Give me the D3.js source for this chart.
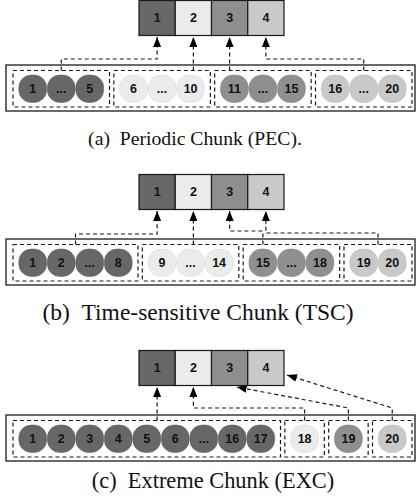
<!DOCTYPE html>
<html>
<head>
<meta charset="utf-8">
<script src="https://cdn.jsdelivr.net/npm/d3@7"></script>
<style>
  body { margin: 0; background: #fff; }
  svg { display: block; }
</style>
</head>
<body>
<div id="chart"></div>
<script>
// chunk slots (top row) and the items grouped under each chunk
const chunks = ["1", "2", "3", "4"]

const pecGroups = [["1", "...", "5"], ["6", "...", "10"], ["11", "...", "15"], ["16", "...", "20"]]
const tscGroups = [["1", "2", "...", "8"], ["9", "...", "14"], ["15", "...", "18"], ["19", "20"]]
const excGroups = [["1", "2", "3", "4", "5", "6", "...", "16", "17"], ["18"], ["19"], ["20"]]

// how each group links up to its chunk, and which item slot the link starts from
const pecLinks = ["elbow", "straight", "straight", "elbow"]
const tscLinks = ["elbow", "straight", "elbow", "elbow"]
const excLinks = ["straight", "elbow", "diag", "diag"]
const pecAnchors = [1, null, null, 1]
const tscAnchors = [1.5, null, 0, 0.5]
const excAnchors = [null, 0, 0, 0]

const captions = ["(a)\u2002Periodic Chunk (PEC).", "(b)\u2002Time-sensitive Chunk (TSC)", "(c)\u2002Extreme Chunk (EXC)"]

// ---- styles / layout
const W = 417, H = 503
const colors = ["#676767", "#ebebeb", "#8f8f8f", "#c9c9c9"]
const ink = "#1a1a1a"
const panelTop = [0, 174, 350]
const elbowY = [[59, 0, 0, 59], [60, 0, 57, 59], [0, 58, 58, 58]]
const capY = [145, 320, 488]
const capX = [195, 198, 213]
const capSize = [19.7, 23.5, 22.4]
const itemW = 28.5, pad = 5.5
const areaX0 = 13, areaX1 = 412

let svg = d3.select("#chart").append("svg")
    .attr("width", W)
    .attr("height", H)

let defs = svg.append("defs")
defs.append("marker")
    .attr("id", "arrow")
    .attr("viewBox", "0 0 10 8")
    .attr("refX", 10)
    .attr("refY", 4)
    .attr("markerWidth", 10)
    .attr("markerHeight", 8)
    .attr("markerUnits", "userSpaceOnUse")
    .attr("orient", "auto")
  .append("path")
    .attr("d", "M0,0L10,4L0,8Z")
    .attr("fill", "#000")

let x = d3.scaleBand().domain(chunks).range([139, 284]).padding(0)
let color = d3.scaleOrdinal().domain(chunks).range(colors)

const panels = [
    { groups: pecGroups, links: pecLinks, anchors: pecAnchors },
    { groups: tscGroups, links: tscLinks, anchors: tscAnchors },
    { groups: excGroups, links: excLinks, anchors: excAnchors }
]

panels.forEach((p, pi) => {
    let g = svg.append("g").attr("transform", `translate(0,${panelTop[pi]})`)

    // group boxes laid out across the area with equal gaps
    let widths = p.groups.map(d => d.length * itemW + 2 * pad)
    let gap = (areaX1 - areaX0 - d3.sum(widths)) / (widths.length - 1)
    let lefts = widths.map((w, i) => areaX0 + d3.sum(widths.slice(0, i)) + gap * i)
    let slot = (gi, k) => d3.scaleLinear().domain([0, 1]).range([lefts[gi] + pad, lefts[gi] + pad + itemW])(k) + itemW / 2

    // outer solid frame
    g.append("rect")
        .attr("x", 6).attr("y", 65)
        .attr("width", 409).attr("height", 46)
        .attr("fill", "none").attr("stroke", ink).attr("stroke-width", 1.3)

    // links (drawn before boxes)
    let groupTop = 70.5
    p.links.forEach((type, i) => {
        let ax = x(chunks[i]) + x.bandwidth() / 2
        let path
        if (type == "straight") {
            path = `M${ax},${groupTop}V37`
        } else if (type == "elbow") {
            let sx = slot(i, p.anchors[i])
            path = `M${sx},${groupTop}V${elbowY[pi][i]}H${ax}V37`
        } else {
            let sx = slot(i, p.anchors[i])
            let tip = i == 2 ? [ax + 7, 37] : [x(chunks[i]) + x.bandwidth() + 3, 25]
            path = `M${sx},${groupTop}V${elbowY[pi][i]}L${tip[0]},${tip[1]}`
        }
        g.append("path")
            .attr("d", path)
            .attr("fill", "none")
            .attr("stroke", ink)
            .attr("stroke-width", 1.2)
            .attr("stroke-dasharray", "4,3")
            .attr("marker-end", "url(#arrow)")
    })

    // chunk boxes
    let boxes = g.selectAll(".chunk").data(chunks).enter().append("g").attr("class", "chunk")
    boxes.append("rect")
        .attr("x", d => x(d)).attr("y", 0.5)
        .attr("width", x.bandwidth()).attr("height", 35)
        .attr("fill", d => color(d))
        .attr("stroke", ink).attr("stroke-width", 1.2)
    boxes.append("text")
        .attr("x", d => x(d) + x.bandwidth() / 2).attr("y", 18)
        .attr("text-anchor", "middle").attr("dominant-baseline", "central")
        .attr("font-family", "'Liberation Sans', Arial, sans-serif")
        .attr("font-weight", "bold").attr("font-size", 12.5)
        .attr("fill", "#111")
        .text(d => d)

    // groups
    p.groups.forEach((items, gi) => {
        g.append("rect")
            .attr("x", lefts[gi]).attr("y", groupTop)
            .attr("width", widths[gi]).attr("height", 36.5)
            .attr("fill", "none").attr("stroke", ink)
            .attr("stroke-width", 1.2).attr("stroke-dasharray", "4,3")

        let it = g.selectAll(".item-" + gi).data(items).enter().append("g").attr("class", "item-" + gi)
        it.append("rect")
            .attr("x", (d, k) => slot(gi, k) - itemW / 2 + 0.3)
            .attr("y", 75)
            .attr("width", itemW - 0.6).attr("height", 27.5)
            .attr("rx", 12.5)
            .attr("fill", color(chunks[gi]))
            .attr("stroke", d3.color(color(chunks[gi])).darker(0.25))
            .attr("stroke-width", 0.5)
        it.append("text")
            .attr("x", (d, k) => slot(gi, k))
            .attr("y", 89)
            .attr("text-anchor", "middle").attr("dominant-baseline", "central")
            .attr("font-family", "'Liberation Sans', Arial, sans-serif")
            .attr("font-weight", "bold").attr("font-size", 12.5)
            .attr("fill", "#111")
            .text(d => d)
    })

    svg.append("text")
        .attr("x", capX[pi]).attr("y", capY[pi])
        .attr("text-anchor", "middle")
        .attr("font-family", "'Liberation Serif', 'Times New Roman', serif")
        .attr("font-size", capSize[pi])
        .attr("fill", "#111")
        .text(captions[pi])
})
</script>
</body>
</html>
